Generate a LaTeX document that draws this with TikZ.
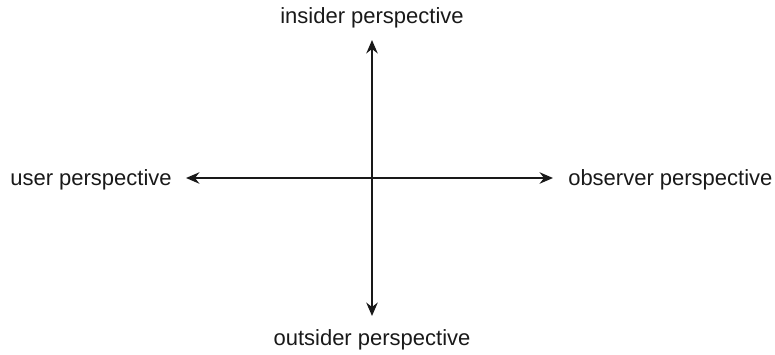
\documentclass[tikz,border=0pt]{standalone}
\usepackage{fontspec}
\setmainfont{Liberation Sans}
\usetikzlibrary{arrows.meta}
\begin{document}
\begin{tikzpicture}[x=0.75pt,y=-0.75pt,
  lbl/.style={font=\fontsize{16.5}{18}\selectfont, inner sep=0pt, text=black!90},
  axis/.style={line width=1.6pt, draw=black!90, {Stealth[length=10pt,width=8.5pt]}-{Stealth[length=10pt,width=8.5pt]}}]
\useasboundingbox (0,0) rectangle (775,354);
\coordinate (c) at (372,178);
\coordinate (top) at (372,40);
\coordinate (bot) at (372,316);
\coordinate (lft) at (186,178);
\coordinate (rgt) at (553,178);
\draw[axis] (top) -- (bot);
\draw[axis] (lft) -- (rgt);
\node[lbl] (ins) at (372,18) {insider perspective};
\node[lbl] (out) at (372,340) {outsider perspective};
\node[lbl, anchor=east] (usr) at (172,180) {user perspective};
\node[lbl, anchor=west] (obs) at (568,180) {observer perspective};
\end{tikzpicture}
\end{document}
